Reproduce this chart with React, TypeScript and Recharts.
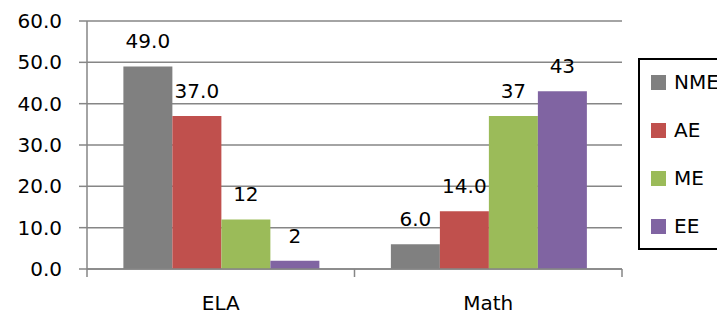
import React from 'react';
import { BarChart, Bar, XAxis, YAxis, CartesianGrid, Legend, LabelList } from 'recharts';

const categories = ['ELA', 'Math'];
const nme = [49, 6];
const ae = [37, 14];
const me = [12, 37];
const ee = [2, 43];
const nmeLabels = ['49.0', '6.0'];
const aeLabels = ['37.0', '14.0'];
const meLabels = ['12', '37'];
const eeLabels = ['2', '43'];
const yTicks = [0, 10, 20, 30, 40, 50, 60];

const series = [
  { key: 'NME', values: nme, labels: nmeLabels, color: '#808080' },
  { key: 'AE', values: ae, labels: aeLabels, color: '#C0504D' },
  { key: 'ME', values: me, labels: meLabels, color: '#9BBB59' },
  { key: 'EE', values: ee, labels: eeLabels, color: '#8064A2' },
];

const data = categories.map((name, i) => {
  const row: Record<string, string | number> = { name };
  series.forEach((s) => {
    row[s.key] = s.values[i];
  });
  return row;
});

const FONT = '"DejaVu Sans", sans-serif';
const AXIS = '#868686';

const CategoryTick = (props: any) => {
  const { x, y, payload, index } = props;
  const off = payload.offset ?? 0;
  return (
    <g>
      <line x1={x - off} x2={x - off} y1={y} y2={y + 8} stroke={AXIS} strokeWidth={1.5} />
      {index === categories.length - 1 && (
        <line x1={x + off} x2={x + off} y1={y} y2={y + 8} stroke={AXIS} strokeWidth={1.5} />
      )}
      <text x={x} y={y + 41} textAnchor="middle" fontSize={20} fontFamily={FONT} fill="#000">
        {payload.value}
      </text>
    </g>
  );
};

const makeLabel = (labels: string[]) => (props: any) => {
  const { x, y, width, index } = props;
  return (
    <text x={x + width / 2} y={y - 18} textAnchor="middle" fontSize={20} fontFamily={FONT} fill="#000">
      {labels[index]}
    </text>
  );
};

// absolutely placed so the legend takes no room from the plot
const LegendBox = () => (
  <div
    style={{
      position: 'absolute',
      left: 638,
      top: 58,
      width: 120,
      height: 192,
      border: '2px solid #000',
      boxSizing: 'border-box',
      fontFamily: FONT,
      fontSize: 20,
    }}
  >
    <div style={{ marginTop: -2 }}>
      {series.map((s) => (
        <div key={s.key} style={{ display: 'flex', alignItems: 'center', height: 48, marginLeft: 11 }}>
          <span style={{ width: 15, height: 15, background: s.color, display: 'inline-block', marginRight: 8 }} />
          <span>{s.key}</span>
        </div>
      ))}
    </div>
  </div>
);

export default function App() {
  return (
    <div style={{ position: 'absolute', left: 0, top: 0, width: 717, height: 317, overflow: 'hidden', background: '#fff' }}>
      <BarChart
        width={717}
        height={317}
        data={data}
        margin={{ top: 21, right: 95, bottom: 0, left: 0 }}
        barCategoryGap="13.6%"
        barGap={0}
      >
        <CartesianGrid vertical={false} stroke={AXIS} strokeWidth={1.5} />
        <XAxis
          dataKey="name"
          height={48}
          axisLine={{ stroke: AXIS, strokeWidth: 1.5 }}
          tickLine={false}
          tickSize={0}
          tickMargin={0}
          tick={<CategoryTick />}
          interval={0}
        />
        <YAxis
          width={87}
          domain={[0, 60]}
          ticks={yTicks}
          tickFormatter={(v: number) => v.toFixed(1)}
          axisLine={{ stroke: AXIS, strokeWidth: 1.5 }}
          tickLine={{ stroke: AXIS, strokeWidth: 1.5 }}
          tickSize={8}
          tickMargin={17}
          tick={{ fill: '#000', fontSize: 20, fontFamily: FONT }}
        />
        <Legend
          content={<LegendBox />}
          wrapperStyle={{ left: 0, top: 0, width: 0, height: 0 }}
        />
        {series.map((s) => (
          <Bar key={s.key} dataKey={s.key} fill={s.color} isAnimationActive={false}>
            <LabelList dataKey={s.key} content={makeLabel(s.labels)} />
          </Bar>
        ))}
      </BarChart>
    </div>
  );
}
